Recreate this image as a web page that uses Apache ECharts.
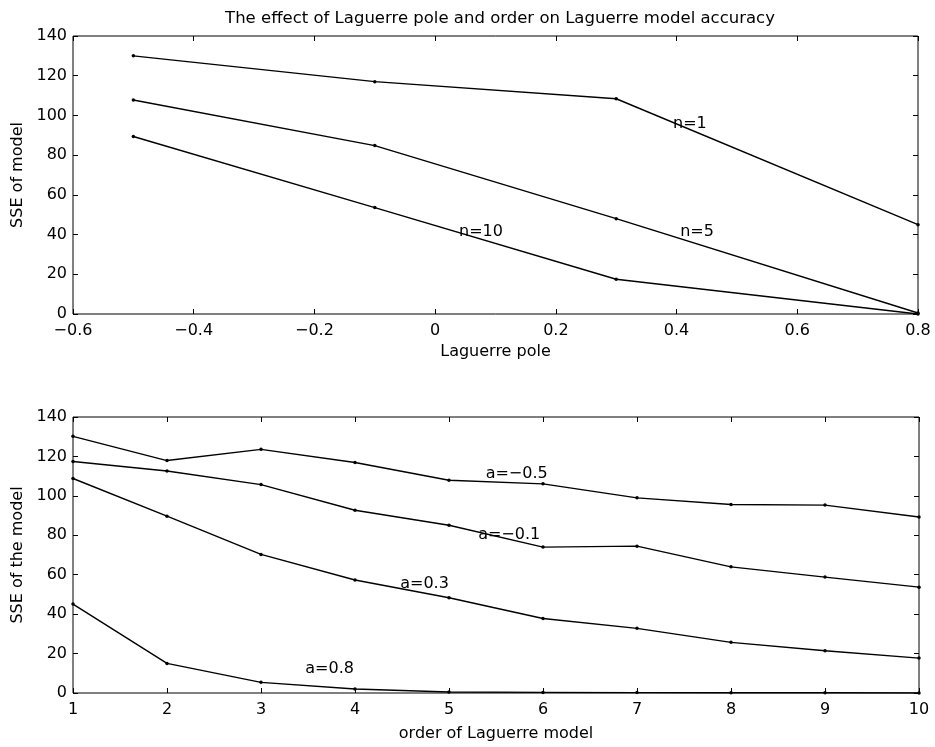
<!DOCTYPE html>
<html>
<head>
<meta charset="utf-8">
<script src="https://cdn.jsdelivr.net/npm/echarts@6/dist/echarts.min.js"></script>
<style>
  html, body { margin: 0; padding: 0; background: #fff; }
  #chart { width: 935px; height: 747px; }
</style>
</head>
<body>
<div id="chart"></div>
<script>
// top panel: SSE vs Laguerre pole, one line per order n
const poles = [-0.5, -0.1, 0.3, 0.8]
const sseN1 = [130, 117, 108.4, 45]
const sseN5 = [107.8, 84.8, 48, 0.5]
const sseN10 = [89.4, 53.6, 17.5, 0]

// bottom panel: SSE vs order, one line per pole a
const orders = [1, 2, 3, 4, 5, 6, 7, 8, 9, 10]
const sseAm05 = [130.2, 117.9, 123.6, 116.9, 107.9, 106.1, 99, 95.6, 95.3, 89.3]
const sseAm01 = [117.4, 112.6, 105.7, 92.7, 85.1, 74, 74.5, 64, 58.8, 53.7]
const sseA03 = [108.8, 89.7, 70.3, 57.3, 48.3, 37.8, 32.8, 25.7, 21.4, 17.7]
const sseA08 = [45.1, 15, 5.4, 2, 0.5, 0.3, 0.2, 0.1, 0.1, 0]

const font = 'DejaVu Sans'
const fs = 16
const minus = v => String(+v.toFixed(2)).replace('-', '\u2212')

const pairs = (xs, ys) => xs.map((x, i) => [x, ys[i]])

function lineSeries(xs, ys, gridIdx, label, at) {
    return {
        type: 'line',
        xAxisIndex: gridIdx * 2,
        yAxisIndex: gridIdx * 2,
        data: pairs(xs, ys),
        symbol: 'circle',
        symbolSize: 3.5,
        itemStyle: { color: '#000' },
        lineStyle: { color: '#000', width: 1.4 },
        animation: false,
        markPoint: {
            symbol: 'circle',
            symbolSize: 0,
            silent: true,
            label: {
                show: true,
                position: 'inside',
                color: '#000',
                fontFamily: font,
                fontSize: fs,
                formatter: label
            },
            data: [{ coord: at }]
        }
    }
}

const tick = { inside: true, length: 5, lineStyle: { color: '#000' } }

function xAxes(gridIdx, min, max, interval, name, gap, fmt) {
    return [{
        type: 'value', gridIndex: gridIdx, min: min, max: max, interval: interval,
        name: name, nameLocation: 'middle', nameGap: gap,
        nameTextStyle: { color: '#000', fontFamily: font, fontSize: fs },
        axisLine: { show: false, onZero: false },
        axisTick: tick,
        axisLabel: { color: '#000', fontFamily: font, fontSize: fs, margin: 9, formatter: fmt },
        splitLine: { show: false }
    }, {
        type: 'value', gridIndex: gridIdx, position: 'top', min: min, max: max, interval: interval,
        axisLine: { show: false, onZero: false },
        axisTick: tick,
        axisLabel: { show: false },
        splitLine: { show: false }
    }]
}

function yAxes(gridIdx, name) {
    return [{
        type: 'value', gridIndex: gridIdx, position: 'left', min: 0, max: 140, interval: 20,
        name: name, nameLocation: 'middle', nameGap: 42,
        nameTextStyle: { color: '#000', fontFamily: font, fontSize: fs },
        axisLine: { show: false, onZero: false },
        axisTick: tick,
        axisLabel: { color: '#000', fontFamily: font, fontSize: fs, margin: 6 },
        splitLine: { show: false }
    }, {
        type: 'value', gridIndex: gridIdx, position: 'right', min: 0, max: 140, interval: 20,
        axisLine: { show: false, onZero: false },
        axisTick: tick,
        axisLabel: { show: false },
        splitLine: { show: false }
    }]
}

const chart = echarts.init(document.getElementById('chart'))
chart.setOption({
    backgroundColor: '#fff',
    animation: false,
    title: {
        text: 'The effect of Laguerre pole and order on Laguerre model accuracy',
        left: 495, textAlign: 'center', top: 5,
        textStyle: { color: '#000', fontFamily: font, fontSize: 16.5, fontWeight: 'normal' }
    },
    grid: [
        { left: 73, right: 17, top: 36, height: 278, show: true, borderColor: '#000', borderWidth: 1 },
        { left: 73, right: 16, top: 417, height: 276, show: true, borderColor: '#000', borderWidth: 1 }
    ],
    xAxis: [
        ...xAxes(0, -0.6, 0.8, 0.2, 'Laguerre pole', 30, minus),
        ...xAxes(1, 1, 10, 1, 'order of Laguerre model', 33)
    ],
    yAxis: [
        ...yAxes(0, 'SSE of model'),
        ...yAxes(1, 'SSE of the model')
    ],
    series: [
        lineSeries(poles, sseN1, 0, 'n=1', [0.422, 96]),
        lineSeries(poles, sseN5, 0, 'n=5', [0.434, 41.3]),
        lineSeries(poles, sseN10, 0, 'n=10', [0.076, 41.3]),
        lineSeries(orders, sseAm05, 1, 'a=\u22120.5', [5.72, 111.4]),
        lineSeries(orders, sseAm01, 1, 'a=\u22120.1', [5.64, 80]),
        lineSeries(orders, sseA03, 1, 'a=0.3', [4.74, 55.6]),
        lineSeries(orders, sseA08, 1, 'a=0.8', [3.73, 12.2])
    ]
})
</script>
</body>
</html>
